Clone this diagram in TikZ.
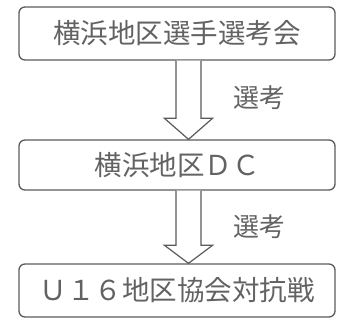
\documentclass[tikz,border=0pt]{standalone}
\usepackage{fontspec}
\setmainfont{Noto Sans CJK JP}
\usetikzlibrary{calc}
\definecolor{txt}{HTML}{626262}
\definecolor{ln}{HTML}{5A5A5A}
\tikzset{
  stagebox/.style={draw=ln, line width=1.3pt, rounded corners=6pt, minimum width=316pt, text=txt, font=\fontsize{27.5}{27.5}\selectfont, inner sep=0pt},
  blockarrow/.style={draw=ln, line width=1.2pt, fill=white, line join=miter},
  lbl/.style={text=txt, font=\fontsize{26}{26}\selectfont, inner sep=0pt}
}
\begin{document}
\begin{tikzpicture}[x=1pt,y=1pt]
\useasboundingbox (0,0) rectangle (342,320);
\node[stagebox, minimum height=53pt] (b1) at (177,286.5) {横浜地区選手選考会};
\node[stagebox, minimum height=50pt] (b2) at (177,155) {横浜地区ＤＣ};
\node[stagebox, minimum height=53pt] (b3) at (177,29.5) {Ｕ１６地区協会対抗戦};
% arrow 1
\coordinate (a1) at ([xshift=11.5pt]b1.south);
\coordinate (t1) at ([xshift=11.5pt]b2.north);
\draw[blockarrow] ($(a1)+(-12.5,0)$) -- ($(t1)+(-12.5,21)$) -- ($(t1)+(-24,21)$) -- (t1) -- ($(t1)+(24,21)$) -- ($(t1)+(12.5,21)$) -- ($(a1)+(12.5,0)$);
% arrow 2
\coordinate (a2) at ([xshift=11.5pt]b2.south);
\coordinate (t2) at ([xshift=11.5pt]b3.north);
\draw[blockarrow] ($(a2)+(-12.5,0)$) -- ($(t2)+(-12.5,18)$) -- ($(t2)+(-24,18)$) -- (t2) -- ($(t2)+(24,18)$) -- ($(t2)+(12.5,18)$) -- ($(a2)+(12.5,0)$);
\node[lbl] (l1) at (259,222) {選考};
\node[lbl] (l2) at (259,93) {選考};
\end{tikzpicture}
\end{document}
